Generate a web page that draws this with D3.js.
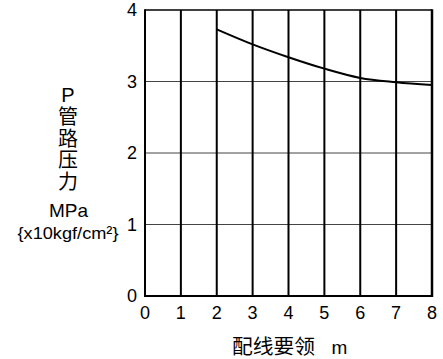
<!DOCTYPE html>
<html><head><meta charset="utf-8">
<script src="https://cdn.jsdelivr.net/npm/d3@7"></script>
<style>body{margin:0;background:#fff}svg{display:block}text{font-family:"Liberation Sans",Arial,"Noto Sans CJK SC",sans-serif;fill:#000}</style>
</head><body><svg id="c" width="443" height="359"></svg>
<script>
const xTicks = [0,1,2,3,4,5,6,7,8];
const yTicks = [0,1,2,3,4];
const curveX = [2,3,4,5,6,7,8];
const curveP = [3.73,3.52,3.34,3.18,3.05,2.99,2.95];
const yLabelLines = ["P","管","路","压","力"];
const unitLines = ["MPa","{x10kgf/cm²}"];
const xLabelCJK = "配线要领";
const xLabelUnit = "m";

const svg = d3.select("#c");
const x = d3.scaleLinear().domain([0,8]).range([145,432]);
const y = d3.scaleLinear().domain([0,4]).range([296,10]);

// horizontal grid
svg.append("g").selectAll("line").data(yTicks.filter(d=>d>0&&d<4)).join("line")
  .attr("x1",x(0)).attr("x2",x(8)).attr("y1",d=>y(d)).attr("y2",d=>y(d))
  .attr("stroke","#444").attr("stroke-width",1);
// vertical grid
svg.append("g").selectAll("line").data(xTicks.filter(d=>d>0&&d<8)).join("line")
  .attr("x1",d=>x(d)).attr("x2",d=>x(d)).attr("y1",y(4)).attr("y2",y(0))
  .attr("stroke","#000").attr("stroke-width",2);
// frame
svg.append("line").attr("x1",x(0)).attr("x2",x(8)).attr("y1",y(4)).attr("y2",y(4)).attr("stroke","#000").attr("stroke-width",1.5);
svg.append("line").attr("x1",x(8)).attr("x2",x(8)).attr("y1",y(4)-0.75).attr("y2",y(0)+1).attr("stroke","#000").attr("stroke-width",2.5);
svg.append("line").attr("x1",x(0)).attr("x2",x(0)).attr("y1",y(4)-0.75).attr("y2",y(0)+1).attr("stroke","#000").attr("stroke-width",2);
svg.append("line").attr("x1",x(0)-1).attr("x2",x(8)+1).attr("y1",y(0)).attr("y2",y(0)).attr("stroke","#000").attr("stroke-width",2);

// curve
svg.append("path").datum(curveX.map((d,i)=>[d,curveP[i]]))
  .attr("d",d3.line().x(d=>x(d[0])).y(d=>y(d[1])).curve(d3.curveMonotoneX))
  .attr("fill","none").attr("stroke","#000").attr("stroke-width",2);

// y tick labels
svg.append("g").selectAll("text").data(yTicks).join("text")
  .attr("x",137).attr("y",d=>y(d)+6).attr("text-anchor","end")
  .attr("font-size",18).text(d=>d);
// x tick labels
svg.append("g").selectAll("text").data(xTicks).join("text")
  .attr("x",d=>x(d)).attr("y",319).attr("text-anchor","middle")
  .attr("font-size",18).text(d=>d);

// y label
svg.append("g").selectAll("text").data(yLabelLines).join("text")
  .attr("x",68).attr("y",(d,i)=>d==="P"?102:124+(i-1)*21.5).attr("text-anchor","middle")
  .attr("font-size",20).text(d=>d);
svg.append("text").attr("x",68.5).attr("y",217).attr("text-anchor","middle").attr("font-size",19).text(unitLines[0]);
svg.append("text").attr("x",68).attr("y",239).attr("text-anchor","middle").attr("font-size",17).attr("textLength",101).attr("lengthAdjust","spacingAndGlyphs").text(unitLines[1]);

// x label
svg.append("text").attr("x",232).attr("y",354).attr("font-size",20).attr("textLength",83).attr("lengthAdjust","spacingAndGlyphs").text(xLabelCJK);
svg.append("text").attr("x",339.5).attr("y",354).attr("text-anchor","middle").attr("font-size",19).text(xLabelUnit);
</script></body></html>
